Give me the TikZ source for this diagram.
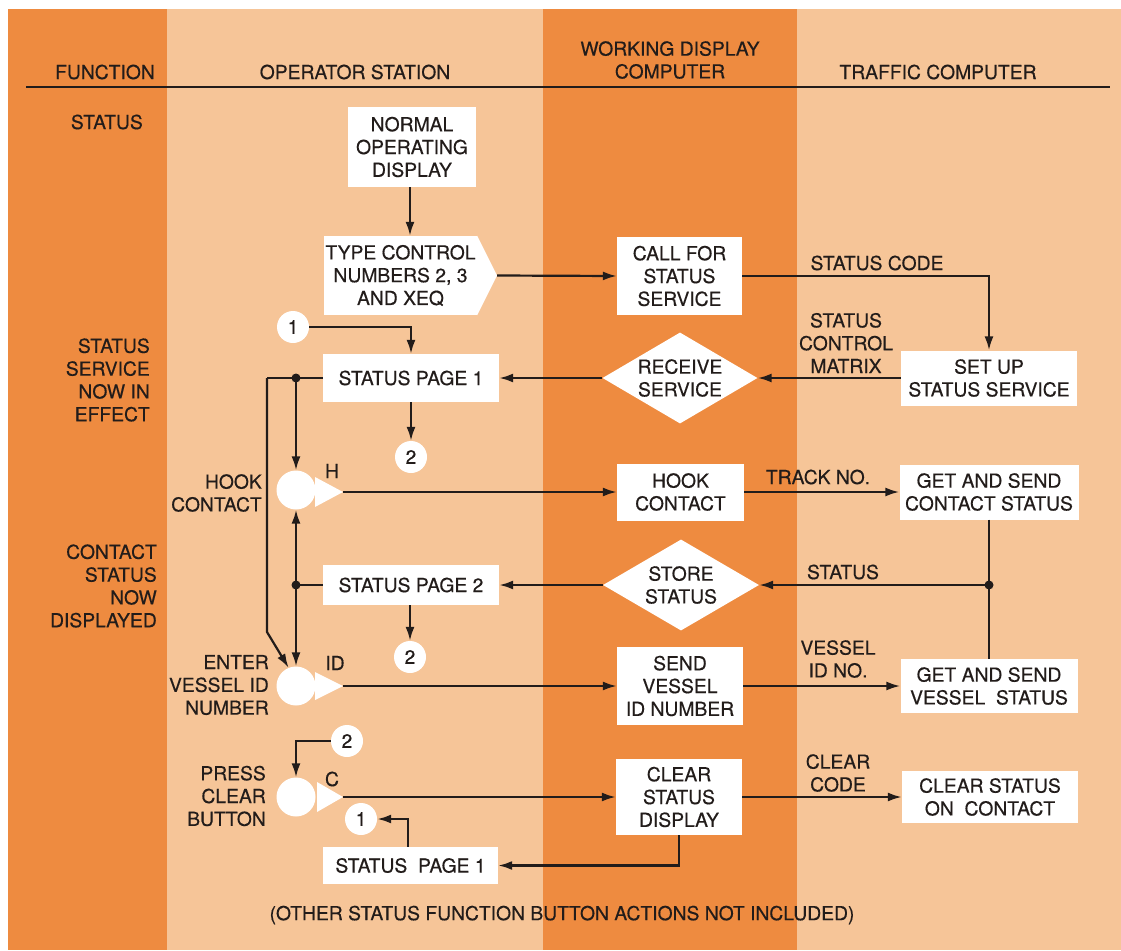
\documentclass[tikz,border=0pt]{standalone}
\usepackage{fontspec}
\setmainfont{TeX Gyre Heros}[FakeBold=0.4]
\usetikzlibrary{shapes.geometric,arrows.meta}
\definecolor{darkband}{RGB}{238,139,64}
\definecolor{lightband}{RGB}{246,197,152}
\definecolor{ink}{RGB}{34,28,26}
\tikzset{
  txt/.style={font=\fontsize{19.3}{22.8}\selectfont, text=ink, align=center, inner sep=0pt},
  rtxt/.style={txt, align=right, anchor=east},
  box/.style={txt, fill=white},
  dia/.style={diamond, fill=white, inner sep=0pt},
  numc/.style={txt, circle, fill=white, minimum size=32pt},
  btn/.style={circle, fill=white, minimum size=39pt, inner sep=0pt},
  conn/.style={draw=ink, line width=2.2pt, -{Latex[length=14pt,width=9pt]}},
  wire/.style={draw=ink, line width=2.2pt},
  jdot/.style={fill=ink}
}
\begin{document}
\begin{tikzpicture}[x=1pt,y=-1pt]
\useasboundingbox (0,0) rectangle (1121,950);
% background bands
\fill[white] (0,0) rectangle (1121,950);
\fill[darkband] (8,9) rectangle (167,950);
\fill[lightband] (167,9) rectangle (543,950);
\fill[darkband] (543,9) rectangle (797,950);
\fill[lightband] (797,9) rectangle (1121,950);

% header
\node[txt] (hfun) at (105,72) {FUNCTION};
\node[txt] (hop) at (355,72) {OPERATOR STATION};
\node[txt] (hwd) at (670,60) {WORKING DISPLAY\\COMPUTER};
\node[txt] (htc) at (938,72) {TRAFFIC COMPUTER};
\coordinate (ruleL) at (26,87);
\coordinate (ruleR) at (1110,87);
\draw[draw=ink, line width=2.2pt] (ruleL) -- (ruleR);

% function column
\node[rtxt] (f1) at (143,122) {STATUS};
\node[rtxt] (f2) at (150,380) {STATUS\\SERVICE\\NOW IN\\EFFECT};
\node[rtxt] (f3) at (157,586) {CONTACT\\STATUS\\NOW\\DISPLAYED};

% operator station
\node[box, minimum width=128pt, minimum height=80pt] (nod) at (412,147) {NORMAL\\OPERATING\\DISPLAY};
\node[box, minimum width=153pt, minimum height=79pt] (type) at (400.5,275.5) {TYPE CONTROL\\NUMBERS 2, 3\\AND XEQ};
\coordinate (typetip) at (497,275.5);
\fill[white] (type.north east) -- (typetip) -- (type.south east) -- cycle;

\node[numc] (c1a) at (293,327) {1};
\node[box, minimum width=176pt, minimum height=48pt] (sp1) at (411,378) {STATUS PAGE 1};
\node[numc] (c2a) at (411,457) {2};

\node[btn] (hb) at (296,490) {};
\coordinate (htip) at (343,492);
\fill[white] (315,477) -- (htip) -- (315,507) -- cycle;
\node[txt] (hl) at (332,471) {H};
\node[rtxt] (hookl) at (262,493) {HOOK\\CONTACT};

\node[box, minimum width=176pt, minimum height=40pt] (sp2) at (411,585) {STATUS PAGE 2};
\node[numc] (c2b) at (410,657) {2};

\node[btn] (idb) at (296,686) {};
\coordinate (idtip) at (343,686);
\fill[white] (315,672) -- (idtip) -- (315,700) -- cycle;
\node[txt] (idl) at (335,663) {ID};
\node[rtxt] (enterl) at (269,685) {ENTER\\VESSEL ID\\NUMBER};

\node[numc] (c2c) at (347,741) {2};
\node[btn] (cb) at (296,797) {};
\coordinate (ctip) at (343,797);
\fill[white] (317,782) -- (ctip) -- (317,812) -- cycle;
\node[txt] (cl) at (332,779) {C};
\node[rtxt] (pressl) at (266,796) {PRESS\\CLEAR\\BUTTON};
\node[numc] (c1b) at (361,819) {1};
\node[box, minimum width=175pt, minimum height=37pt] (sp1b) at (410.5,865.5) {STATUS\ \ PAGE 1};

% working display computer
\node[box, minimum width=125pt, minimum height=78pt] (call) at (679.5,276) {CALL FOR\\STATUS\\SERVICE};
\node[dia, minimum width=155pt, minimum height=91pt] (rs) at (680,378) {};
\node[txt] (rst) at (rs.center) {RECEIVE\\SERVICE};
\node[box, minimum width=127pt, minimum height=57pt] (hook) at (680.5,492) {HOOK\\CONTACT};
\node[dia, minimum width=156pt, minimum height=91pt] (ss) at (681,585) {};
\node[txt] (sst) at (ss.center) {STORE\\STATUS};
\node[box, minimum width=126pt, minimum height=78pt] (send) at (680,686) {SEND\\VESSEL\\ID NUMBER};
\node[box, minimum width=126pt, minimum height=76pt] (clear) at (679,797) {CLEAR\\STATUS\\DISPLAY};

% traffic computer
\node[box, minimum width=176pt, minimum height=55pt] (setup) at (989,378) {SET UP\\STATUS SERVICE};
\node[box, minimum width=179pt, minimum height=55pt] (getc) at (989,492) {GET AND SEND\\CONTACT STATUS};
\node[box, minimum width=177pt, minimum height=54pt] (getv) at (989,686) {GET AND SEND\\VESSEL\ \ STATUS};
\node[box, minimum width=176pt, minimum height=52pt] (clr) at (990,797) {CLEAR STATUS\\ON\ \ CONTACT};

% connector labels
\node[txt] (lsc) at (877,263) {STATUS CODE};
\node[txt] (lscm) at (846,343) {STATUS\\CONTROL\\MATRIX};
\node[txt] (ltn) at (818,477) {TRACK NO.};
\node[txt] (lst) at (843,572) {STATUS};
\node[txt] (lvid) at (838,659) {VESSEL\\ID NO.};
\node[txt] (lcc) at (838,773) {CLEAR\\CODE};

% footnote
\node[txt] (foot) at (562,915) {(OTHER STATUS FUNCTION BUTTON ACTIONS NOT INCLUDED)};

% connectors
\draw[conn] (nod.south -| 410,0) -- (type.north -| 410,0);
\draw[conn] (typetip) -- (call.west);
\draw[conn] (call.east) -| (setup.north);
\draw[conn] (setup.west) -- (rs.east);
\draw[conn] (rs.west) -- (sp1.east);
\draw[conn] (c1a.east) -| (sp1.north);
\draw[conn] (sp1.south) -- (c2a.north);

\coordinate (d1) at (296,378);
\coordinate (bendA) at (267,378);
\coordinate (bendB) at (267,632);
\draw[wire] (sp1.west) -- (bendA);
\draw[conn] (bendA) -- (bendB) -- (idb.112);
\draw[conn] (d1) -- (hb.north);
\fill[jdot] (d1) circle (4.5pt);

\draw[conn] (htip) -- (hook.west);
\draw[conn] (hook.east) -- (getc.west);
\coordinate (d3) at (989,585);
\draw[wire] (getc.south) -- (getv.north);
\draw[conn] (d3) -- (ss.east);
\fill[jdot] (d3) circle (4.5pt);
\draw[conn] (ss.west) -- (sp2.east);

\coordinate (d2) at (296,585);
\draw[wire] (sp2.west) -- (d2);
\draw[conn] (d2) -- (hb.south);
\draw[conn] (d2) -- (idb.north);
\fill[jdot] (d2) circle (4.5pt);
\draw[conn] (sp2.south -| 410,0) -- (c2b.north);

\draw[conn] (idtip) -- (send.west);
\draw[conn] (send.east) -- (getv.west);

\draw[conn] (c2c.west) -| (cb.north);
\draw[conn] (ctip) -- (clear.west);
\draw[conn] (clear.east) -- (clr.west);
\draw[conn] (clear.south) |- (sp1b.east);
\draw[conn] (sp1b.north -| 408,0) |- (c1b.east);
\end{tikzpicture}
\end{document}
